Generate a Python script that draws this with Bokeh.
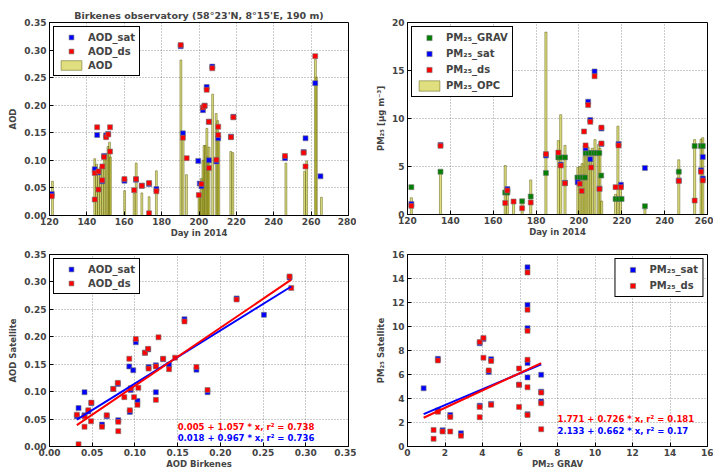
from bokeh.plotting import figure
from bokeh.models import Range1d, FixedTicker, PrintfTickFormatter, Legend, LegendItem
from bokeh.layouts import column, row
from bokeh.core.properties import value
from bokeh.embed import file_html
from bokeh.resources import INLINE

FONT = "DejaVu Sans"
BLUE = "#0000ff"
RED = "#ff0000"
GREEN = "#008000"
BAR_FILL = "#bfbf00"
BAR_LINE = "#4d4d00"

# ---------------- AOD time series (Birkenes, 2014) ----------------
aod_bar_day = [121.6, 144.2, 145.2, 146.2, 147.2, 148.3, 149.3, 150.3, 151.3, 152.1, 152.6,
               160.2, 165.3, 166.4, 169.4, 173.3, 177.2, 190.3, 191.5, 193.3,
               200.0, 200.6, 201.3, 202.1, 202.7, 203.4, 204.2, 204.8, 205.4, 207.3,
               209.2, 210.0, 210.6, 217.0, 218.1, 246.5, 256.5, 257.6, 262.8, 262.3, 265.5]
aod_bar = [0.062, 0.103, 0.093, 0.080, 0.088, 0.091, 0.108, 0.112, 0.125, 0.133, 0.106,
           0.045, 0.040, 0.095, 0.041, 0.034, 0.081, 0.282, 0.145, 0.074,
           0.040, 0.040, 0.067, 0.100, 0.127, 0.127, 0.158, 0.106, 0.124, 0.220,
           0.185, 0.172, 0.145, 0.116, 0.114, 0.095, 0.080, 0.099, 0.251, 0.283, 0.033]

aod_sat_day = [121.2, 144.2, 145.5, 146.2, 148.2, 149.2, 150.3, 151.4, 160.1, 166.3, 169.4,
               173.3, 177.2, 190.2, 191.4, 199.6, 200.4, 201.3, 202.1, 203.0, 204.1,
               205.3, 205.3, 207.1, 209.3, 210.3, 217.1, 218.4, 246.0, 256.0, 257.0,
               262.2, 265.0]
aod_sat = [0.039, 0.084, 0.146, 0.078, 0.062, 0.108, 0.145, 0.148, 0.063, 0.065, 0.054,
           0.057, 0.048, 0.307, 0.149, 0.099, 0.058, 0.053, 0.191, 0.199, 0.233,
           0.100, 0.170, 0.270, 0.098, 0.140, 0.143, 0.179, 0.104, 0.115, 0.140,
           0.240, 0.071]

aod_ds_day = [121.2, 144.2, 144.2, 145.5, 146.2, 146.2, 148.3, 148.2, 149.2, 150.3, 151.4,
              152.4, 152.4, 160.1, 165.3, 166.3, 169.4, 173.3, 173.3, 177.2, 190.2,
              191.4, 193.4, 199.9, 201.3, 202.1, 203.0, 204.1, 205.3, 205.3, 207.1,
              209.3, 210.3, 210.3, 217.1, 218.4, 246.0, 256.0, 257.0, 262.2]
aod_ds = [0.035, 0.077, 0.029, 0.160, 0.080, 0.047, 0.089, 0.064, 0.106, 0.142, 0.147,
          0.160, 0.116, 0.066, 0.046, 0.066, 0.054, 0.059, 0.004, 0.044, 0.309,
          0.141, 0.104, 0.037, 0.057, 0.196, 0.199, 0.228, 0.170, 0.086, 0.267,
          0.101, 0.161, 0.146, 0.142, 0.178, 0.108, 0.114, 0.089, 0.289]

# ---------------- PM2.5 time series ----------------
pm_opc_day = [121.8, 135.4, 165.6, 166.6, 169.5, 173.5, 177.5, 184.6, 190.4, 191.5, 193.5,
              199.5, 200.5, 201.5, 202.4, 203.3, 204.3, 205.3, 206.2, 207.5, 209.2,
              209.8, 210.6, 217.1, 218.2, 219.4, 230.8, 246.6, 254.0, 257.0, 257.8]
pm_opc = [1.75, 4.5, 5.1, 2.5, 1.3, 1.5, 3.6, 19.0, 7.7, 10.4, 7.2,
          4.9, 5.0, 5.3, 6.1, 6.6, 7.0, 6.0, 6.9, 7.8, 7.3,
          6.9, 1.4, 2.1, 9.2, 3.0, 0.55, 5.7, 7.8, 7.85, 8.0]

pm_grav_day = [121.8, 135.4, 165.6, 166.6, 173.5, 177.5, 184.6, 190.4, 191.5, 193.5,
               199.3, 200.5, 201.7, 202.8, 203.1, 204.3, 205.7, 207.1, 208.2, 209.5,
               210.4, 217.1, 218.5, 219.9, 230.8, 246.6, 254.0, 256.9, 257.8]
pm_grav = [2.85, 4.46, 2.28, 2.28, 1.38, 1.87, 4.33, 5.95, 5.95, 5.95,
           3.85, 3.85, 3.85, 3.85, 6.4, 6.4, 6.4, 6.4, 6.4, 6.4,
           4.05, 1.62, 1.62, 1.62, 0.86, 4.46, 7.13, 7.13, 7.13]

pm_sat_day = [121.8, 135.4, 166.6, 184.6, 191.5, 193.5, 199.4, 203.1, 204.3, 205.3, 205.3,
              207.3, 209.6, 210.5, 210.5, 218.5, 219.6, 230.8, 246.6, 257.0, 257.8, 257.8]
pm_sat = [1.1, 7.25, 2.65, 6.15, 5.2, 3.3, 3.35, 6.9, 11.75, 9.85, 5.75,
          14.9, 2.7, 8.95, 7.35, 7.35, 3.1, 4.85, 3.55, 4.6, 6.0, 3.75]

pm_ds_day = [121.8, 135.4, 165.6, 166.6, 169.5, 173.5, 177.5, 184.6, 190.4, 191.5, 193.5,
             200.4, 201.3, 202.4, 203.1, 204.3, 205.3, 205.7, 207.3, 209.6, 210.5,
             210.5, 217.1, 218.5, 219.6, 246.6, 254.0, 257.0, 257.8]
pm_ds = [0.9, 7.15, 1.2, 2.5, 1.35, 0.65, 1.25, 6.3, 6.45, 5.1, 3.25,
         3.2, 2.45, 8.65, 7.2, 11.4, 9.65, 4.9, 14.4, 2.65, 9.05,
         7.4, 2.85, 7.2, 2.85, 3.5, 1.45, 4.45, 3.55]

# ---------------- AOD scatter: ground vs satellite ----------------
sc_aod_x_sat = [0.032, 0.034, 0.041, 0.041, 0.0455, 0.049, 0.0615, 0.067, 0.0747, 0.080,
                0.0805, 0.094, 0.0934, 0.098, 0.095, 0.101, 0.103, 0.1117, 0.1155, 0.116,
                0.1245, 0.1245, 0.133, 0.140, 0.158, 0.172, 0.185, 0.219, 0.251, 0.281]
sc_aod_sat = [0.055, 0.070, 0.099, 0.057, 0.064, 0.079, 0.040, 0.055, 0.105, 0.114,
              0.048, 0.063, 0.146, 0.139, 0.103, 0.190, 0.083, 0.171, 0.177, 0.145,
              0.148, 0.099, 0.159, 0.149, 0.232, 0.140, 0.099, 0.270, 0.240, 0.308]
sc_aod_x_ds = [0.032, 0.034, 0.041, 0.041, 0.0455, 0.0486, 0.049, 0.0615, 0.067, 0.0747,
               0.080, 0.0805, 0.0805, 0.0876, 0.094, 0.0934, 0.095, 0.099, 0.101, 0.103,
               0.104, 0.1117, 0.1155, 0.116, 0.1276, 0.1245, 0.1245, 0.133, 0.147, 0.140,
               0.158, 0.172, 0.185, 0.219, 0.281, 0.283]
sc_aod_ds = [0.058, 0.004, 0.055, 0.036, 0.066, 0.046, 0.080, 0.036, 0.057, 0.105,
             0.116, 0.045, 0.028, 0.090, 0.066, 0.160, 0.106, 0.090, 0.196, 0.076,
             0.107, 0.171, 0.178, 0.142, 0.199, 0.146, 0.085, 0.160, 0.162, 0.141,
             0.228, 0.145, 0.103, 0.268, 0.310, 0.289]
aod_fit_ds = (0.005, 1.057, 0.738)   # intercept, slope, r^2
aod_fit_sat = (0.018, 0.967, 0.736)

# ---------------- PM2.5 scatter: gravimetric vs satellite ----------------
sc_pm_x_sat = [0.86, 1.62, 1.62, 1.87, 2.28, 2.85, 3.85, 3.85, 4.05, 4.33, 4.46,
               4.46, 5.95, 6.4, 6.4, 6.4, 6.4, 6.4, 6.4, 7.13, 7.13, 7.13]
sc_pm_sat = [4.85, 7.31, 3.0, 1.35, 2.63, 1.1, 8.6, 3.4, 8.95, 6.2, 7.28,
             3.55, 5.15, 14.93, 11.8, 9.86, 6.95, 5.76, 2.69, 5.98, 4.57, 3.74]
sc_pm_x_ds = [1.39, 1.39, 1.62, 1.62, 1.87, 2.28, 2.28, 2.85, 3.85, 3.85, 3.85, 4.05,
              4.05, 4.33, 4.46, 4.46, 5.95, 5.95, 5.95, 6.4, 6.4, 6.4, 6.4, 6.4, 6.4,
              7.13, 7.13, 7.13]
sc_pm_ds = [1.38, 0.64, 7.17, 2.9, 1.25, 2.46, 1.25, 0.9, 8.7, 3.3, 2.44, 9.05,
            7.4, 6.34, 7.12, 3.47, 6.5, 5.15, 3.3, 14.5, 11.4, 9.64, 7.23, 4.93, 2.63,
            4.49, 3.6, 1.44]
pm_fit_ds = (1.771, 0.726, 0.181)
pm_fit_sat = (2.133, 0.662, 0.17)

aod_ticks = [0.0, 0.05, 0.10, 0.15, 0.20, 0.25, 0.30, 0.35]


def make_fig(xr, yr, xticks, yticks, borders, frame, xlabel, ylabel,
             xfmt=None, yfmt=None, title=None):
    left, right, top, bottom = borders
    p = figure(frame_width=frame[0], frame_height=frame[1],
               min_border_left=left, min_border_right=right,
               min_border_top=top, min_border_bottom=bottom,
               x_range=Range1d(*xr), y_range=Range1d(*yr),
               output_backend="svg", toolbar_location=None, tools="",
               title=title, x_axis_label=xlabel, y_axis_label=ylabel)
    p.xaxis.ticker = FixedTicker(ticks=xticks)
    p.yaxis.ticker = FixedTicker(ticks=yticks)
    if xfmt:
        p.xaxis.formatter = PrintfTickFormatter(format=xfmt)
    if yfmt:
        p.yaxis.formatter = PrintfTickFormatter(format=yfmt)
    for ax in p.xaxis + p.yaxis:
        ax.major_label_text_font = FONT
        ax.major_label_text_font_style = "bold"
        ax.major_label_text_font_size = "9px"
        ax.axis_label_text_font = FONT
        ax.axis_label_text_font_style = "bold"
        ax.axis_label_text_font_size = "8.5px"
        ax.major_tick_in = 4
        ax.major_tick_out = 0
        ax.minor_tick_line_color = None
        ax.axis_line_color = "black"
        ax.major_label_standoff = 2
        ax.axis_label_standoff = 0
    p.yaxis.axis_label_standoff = 3
    p.yaxis.major_label_standoff = 3
    p.xgrid.ticker = FixedTicker(ticks=xticks)
    p.ygrid.ticker = FixedTicker(ticks=yticks)
    for g in (p.xgrid, p.ygrid):
        g.grid_line_color = "#000000"
        g.grid_line_alpha = 0.4
        g.grid_line_dash = "1 2"
        g.grid_line_width = 1
    p.outline_line_color = "black"
    p.outline_line_alpha = 1
    p.outline_line_width = 1
    p.background_fill_color = "white"
    p.border_fill_color = "white"
    if title:
        p.title.text_font = FONT
        p.title.text_font_style = "bold"
        p.title.text_font_size = "9.5px"
        p.title.align = "center"
        p.title.standoff = 3
    return p


def styled_legend(items, location, row_h=12, gap=2):
    return Legend(items=items, location=location,
                  label_text_font=FONT, label_text_font_style="bold",
                  label_text_font_size="10px", glyph_width=26, glyph_height=row_h,
                  label_height=row_h, label_standoff=4, spacing=gap, padding=4, margin=4,
                  border_line_color="black", border_line_width=1, border_line_alpha=1,
                  background_fill_alpha=1)


def squares(p, x, y, color):
    return p.scatter(x, y, marker="square", size=5, fill_color=color,
                     line_color="#777777", line_alpha=0.6, line_width=1)


def fit_text(fit):
    a, b, r2 = fit
    return f"{a} + {b} * x, r\u00b2 = {r2}"


def fit_label(p, x, y, fit, color):
    p.text(x=[x], y=[y], text=[fit_text(fit)], text_color=color,
           text_font=value(FONT), text_font_style="bold", text_font_size="8.5px",
           text_baseline="middle")


# ---- panel 1: AOD time series ----
p1 = make_fig((120, 280), (0, 0.35), list(range(120, 281, 20)), aod_ticks,
              (49, 8, 22, 25), (299, 193), "Day in 2014", "AOD", yfmt="%.2f",
              title="Birkenes observatory (58\u00b023'N, 8\u00b015'E, 190 m)")
b1 = p1.vbar(x=aod_bar_day, top=aod_bar, width=1.0, bottom=0,
             fill_color=BAR_FILL, fill_alpha=0.5, line_color=BAR_LINE, line_alpha=0.45)
s1 = squares(p1, aod_sat_day, aod_sat, BLUE)
d1 = squares(p1, aod_ds_day, aod_ds, RED)
p1.add_layout(styled_legend([LegendItem(label="AOD_sat", renderers=[s1]),
                             LegendItem(label="AOD_ds", renderers=[d1]),
                             LegendItem(label="AOD", renderers=[b1])], "top_left"))

# ---- panel 2: PM2.5 time series ----
p2 = make_fig((120, 260), (0, 20), list(range(120, 261, 20)), [0, 5, 10, 15, 20],
              (51, 6, 22, 25), (300, 192), "Day in 2014",
              "PM\u2082\u2085 [\u00b5g m\u207b\u00b3]")
b2 = p2.vbar(x=pm_opc_day, top=pm_opc, width=1.0, bottom=0,
             fill_color=BAR_FILL, fill_alpha=0.5, line_color=BAR_LINE, line_alpha=0.45)
g2 = squares(p2, pm_grav_day, pm_grav, GREEN)
s2 = squares(p2, pm_sat_day, pm_sat, BLUE)
d2 = squares(p2, pm_ds_day, pm_ds, RED)
p2.add_layout(styled_legend([LegendItem(label="PM\u2082\u2085_GRAV", renderers=[g2]),
                             LegendItem(label="PM\u2082\u2085_sat", renderers=[s2]),
                             LegendItem(label="PM\u2082\u2085_ds", renderers=[d2]),
                             LegendItem(label="PM\u2082\u2085_OPC", renderers=[b2])],
                            "top_left", row_h=13, gap=3))

# ---- panel 3: AOD scatter ----
p3 = make_fig((0, 0.35), (0, 0.35), aod_ticks, aod_ticks,
              (49, 8, 14, 25), (299, 192), "AOD Birkenes", "AOD Satellite",
              xfmt="%.2f", yfmt="%.2f")
s3 = squares(p3, sc_aod_x_sat, sc_aod_sat, BLUE)
d3 = squares(p3, sc_aod_x_ds, sc_aod_ds, RED)
xs = [min(sc_aod_x_sat + sc_aod_x_ds), max(sc_aod_x_sat + sc_aod_x_ds)]
p3.line(xs, [aod_fit_sat[0] + aod_fit_sat[1] * x for x in xs], line_color=BLUE, line_width=2)
p3.line(xs, [aod_fit_ds[0] + aod_fit_ds[1] * x for x in xs], line_color=RED, line_width=2)
fit_label(p3, 0.15, 0.036, aod_fit_ds, RED)
fit_label(p3, 0.15, 0.016, aod_fit_sat, BLUE)
p3.add_layout(styled_legend([LegendItem(label="AOD_sat", renderers=[s3]),
                             LegendItem(label="AOD_ds", renderers=[d3])], "top_left"))

# ---- panel 4: PM2.5 scatter ----
pm_ticks = list(range(0, 17, 2))
p4 = make_fig((0, 16), (0, 16), pm_ticks, pm_ticks,
              (51, 6, 14, 25), (300, 192), "PM\u2082\u2085 GRAV", "PM\u2082\u2085 Satellite")
s4 = squares(p4, sc_pm_x_sat, sc_pm_sat, BLUE)
d4 = squares(p4, sc_pm_x_ds, sc_pm_ds, RED)
xp = [min(sc_pm_x_sat + sc_pm_x_ds), max(sc_pm_x_sat + sc_pm_x_ds)]
p4.line(xp, [pm_fit_sat[0] + pm_fit_sat[1] * x for x in xp], line_color=BLUE, line_width=2)
p4.line(xp, [pm_fit_ds[0] + pm_fit_ds[1] * x for x in xp], line_color=RED, line_width=2)
fit_label(p4, 8.0, 2.3, pm_fit_ds, RED)
fit_label(p4, 8.0, 1.33, pm_fit_sat, BLUE)
p4.add_layout(styled_legend([LegendItem(label="PM\u2082\u2085_sat", renderers=[s4]),
                             LegendItem(label="PM\u2082\u2085_ds", renderers=[d4])],
                            "top_right", row_h=13, gap=3))

layout = column(row(p1, p2), row(p3, p4))
open("out.html", "w").write(file_html(layout, INLINE))
